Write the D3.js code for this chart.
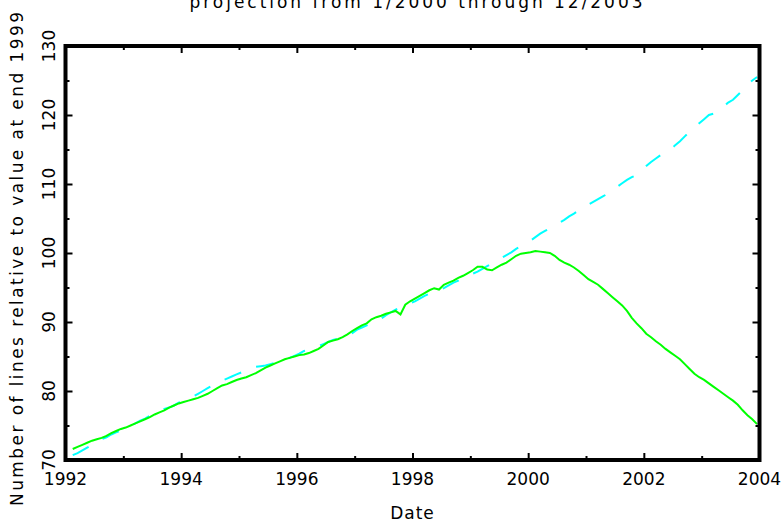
<!DOCTYPE html>
<html>
<head>
<meta charset="utf-8">
<script src="https://cdn.jsdelivr.net/npm/d3@7"></script>
<style>
  body { margin: 0; background: #fff; }
  svg { display: block; font-family: "DejaVu Sans", sans-serif; }
</style>
</head>
<body>
<svg width="784" height="525"></svg>
<script>
// monthly series, first value is Feb 1992, last is Dec 2003
const firstYear = 1992;
const firstMonth = 2;

// actual line counts (green), relative to end 1999
const actual = [
  71.6, 71.9, 72.2, 72.5, 72.8, 73.0, 73.2, 73.5, 73.9, 74.2, 74.5,
  74.7, 75.0, 75.3, 75.6, 75.9, 76.2, 76.6, 76.9, 77.2, 77.6, 77.9, 78.2,
  78.4, 78.6, 78.8, 79.0, 79.3, 79.6, 80.0, 80.4, 80.8, 81.0, 81.3, 81.6,
  81.8, 82.0, 82.3, 82.6, 83.0, 83.4, 83.7, 84.0, 84.3, 84.6, 84.8, 85.0,
  85.2, 85.3, 85.5, 85.8, 86.1, 86.6, 87.1, 87.3, 87.5, 87.8, 88.2, 88.7,
  89.1, 89.5, 89.8, 90.4, 90.7, 90.9, 91.2, 91.4, 91.6, 91.1, 92.5, 93.0,
  93.4, 93.8, 94.2, 94.6, 94.9, 94.7, 95.4, 95.7, 96.0, 96.4, 96.7, 97.1,
  97.5, 98.0, 98.0, 97.6, 97.5, 97.9, 98.3, 98.6, 99.1, 99.6, 99.9, 100.0,
  100.1, 100.3, 100.2, 100.1, 100.0, 99.6, 99.0, 98.6, 98.3, 97.9, 97.4, 96.8,
  96.2, 95.8, 95.4, 94.8, 94.2, 93.6, 93.0, 92.4, 91.6, 90.6, 89.8, 89.1,
  88.3, 87.8, 87.2, 86.7, 86.1, 85.6, 85.1, 84.6, 83.9, 83.2, 82.5, 82.0,
  81.6, 81.1, 80.6, 80.1, 79.6, 79.1, 78.6, 78.0, 77.2, 76.5, 75.9, 75.2
];

// fitted trend with projection from 1/2000 (cyan, dashed)
const projected = [
  70.7, 71.0, 71.4, 71.8, 72.2, 72.6, 73.0, 73.3, 73.7, 74.0, 74.3,
  74.6, 75.0, 75.3, 75.7, 76.0, 76.4, 76.8, 77.1, 77.4, 77.6, 77.9, 78.3,
  78.6, 78.9, 79.2, 79.6, 80.0, 80.4, 80.8, 81.1, 81.5, 81.8, 82.1, 82.4,
  82.7, 83.0, 83.3, 83.5, 83.6, 83.7, 83.9, 84.1, 84.3, 84.4, 84.8, 85.1,
  85.4, 85.8, 86.0, 86.2, 86.5, 86.8, 87.1, 87.4, 87.6, 87.8, 88.0, 88.4,
  88.9, 89.2, 89.5, 89.8, 90.0, 90.5, 91.0, 91.4, 91.8, 92.1, 92.4, 92.7,
  93.0, 93.4, 93.8, 94.1, 94.4, 94.6, 94.9, 95.3, 95.7, 96.0, 96.4, 96.7,
  97.0, 97.3, 97.7, 98.1, 98.5, 98.9, 99.3, 99.7, 100.1, 100.6, 101.0, 101.3,
  101.8, 102.3, 102.8, 103.2, 103.6, 104.0, 104.4, 104.8, 105.3, 105.7, 106.2, 106.7,
  107.0, 107.4, 107.8, 108.2, 108.6, 109.1, 109.6, 110.1, 110.6, 111.0, 111.3, 111.9,
  112.6, 113.2, 113.7, 114.2, 114.5, 115.0, 115.6, 116.2, 116.9, 117.6, 118.2, 118.8,
  119.4, 120.0, 120.2, 120.7, 121.2, 121.8, 122.2, 122.9, 123.6, 124.4, 125.0, 125.5
];

const yearTicks = [1992, 1994, 1996, 1998, 2000, 2002, 2004];
const yearMinor = [1993, 1995, 1997, 1999, 2001, 2003];
const valueTicks = [70, 80, 90, 100, 110, 120, 130];
const valueMinor = [75, 85, 95, 105, 115, 125];

const titleText = "projection from 1/2000 through 12/2003";
const xTitle = "Date";
const yTitle = "Number of lines relative to value at end 1999";

const svg = d3.select("svg");
const plotLeft = 65.5, plotRight = 759.5, plotTop = 46, plotBottom = 460;

const x = d3.scaleLinear().domain([1992, 2004]).range([plotLeft, plotRight]);
const y = d3.scaleLinear().domain([70, 130]).range([plotBottom, plotTop]);

// month index -> decimal year (middle of the month)
const dateOf = i => firstYear + (firstMonth - 1 + i + 0.5) / 12;

const line = d3.line()
  .x((d, i) => x(dateOf(i)))
  .y(d => y(d));

svg.append("path")
  .datum(projected)
  .attr("fill", "none")
  .attr("stroke", "#00ffff")
  .attr("stroke-width", 2)
  .attr("stroke-dasharray", "18,16")
  .attr("d", line);

svg.append("path")
  .datum(actual)
  .attr("fill", "none")
  .attr("stroke", "#00ff00")
  .attr("stroke-width", 2)
  .attr("d", line);

// ticks point inward on all four sides
const tickStyle = g => g.call(g => g.select(".domain").remove())
  .call(g => g.selectAll("line").attr("stroke", "#000").attr("stroke-width", 2));

svg.append("g").attr("transform", `translate(0,${plotBottom})`)
  .call(d3.axisBottom(x).tickValues(yearTicks).tickSize(-7).tickFormat(""))
  .call(tickStyle);
svg.append("g").attr("transform", `translate(0,${plotBottom})`)
  .call(d3.axisBottom(x).tickValues(yearMinor).tickSize(-4).tickFormat(""))
  .call(tickStyle);
svg.append("g").attr("transform", `translate(0,${plotTop})`)
  .call(d3.axisTop(x).tickValues(yearTicks).tickSize(-7).tickFormat(""))
  .call(tickStyle);
svg.append("g").attr("transform", `translate(0,${plotTop})`)
  .call(d3.axisTop(x).tickValues(yearMinor).tickSize(-4).tickFormat(""))
  .call(tickStyle);
svg.append("g").attr("transform", `translate(${plotLeft},0)`)
  .call(d3.axisLeft(y).tickValues(valueTicks).tickSize(-7).tickFormat(""))
  .call(tickStyle);
svg.append("g").attr("transform", `translate(${plotLeft},0)`)
  .call(d3.axisLeft(y).tickValues(valueMinor).tickSize(-4).tickFormat(""))
  .call(tickStyle);
svg.append("g").attr("transform", `translate(${plotRight},0)`)
  .call(d3.axisRight(y).tickValues(valueTicks).tickSize(-7).tickFormat(""))
  .call(tickStyle);
svg.append("g").attr("transform", `translate(${plotRight},0)`)
  .call(d3.axisRight(y).tickValues(valueMinor).tickSize(-4).tickFormat(""))
  .call(tickStyle);

// frame
svg.append("rect")
  .attr("x", plotLeft).attr("y", plotTop)
  .attr("width", plotRight - plotLeft).attr("height", plotBottom - plotTop)
  .attr("fill", "none")
  .attr("stroke", "#000")
  .attr("stroke-width", 4)
  .attr("stroke-linecap", "square");

// tick labels
svg.append("g")
  .selectAll("text")
  .data(yearTicks)
  .join("text")
  .attr("x", d => x(d))
  .attr("y", 485)
  .attr("text-anchor", "middle")
  .attr("font-size", 17)
  .text(d => d);

svg.append("g")
  .selectAll("text")
  .data(valueTicks)
  .join("text")
  .attr("transform", d => `translate(55,${y(d)}) rotate(-90)`)
  .attr("text-anchor", "middle")
  .attr("font-size", 17)
  .text(d => d);

// titles
svg.append("text")
  .attr("x", 416).attr("y", 8)
  .attr("text-anchor", "middle")
  .attr("font-size", 17)
  .attr("textLength", 453)
  .attr("lengthAdjust", "spacing")
  .text(titleText);

svg.append("text")
  .attr("x", (plotLeft + plotRight) / 2).attr("y", 519)
  .attr("text-anchor", "middle")
  .attr("font-size", 17)
  .attr("letter-spacing", 1)
  .text(xTitle);

svg.append("text")
  .attr("transform", "translate(23,259) rotate(-90)")
  .attr("text-anchor", "middle")
  .attr("font-size", 17)
  .attr("textLength", 494)
  .attr("lengthAdjust", "spacing")
  .text(yTitle);
</script>
</body>
</html>
